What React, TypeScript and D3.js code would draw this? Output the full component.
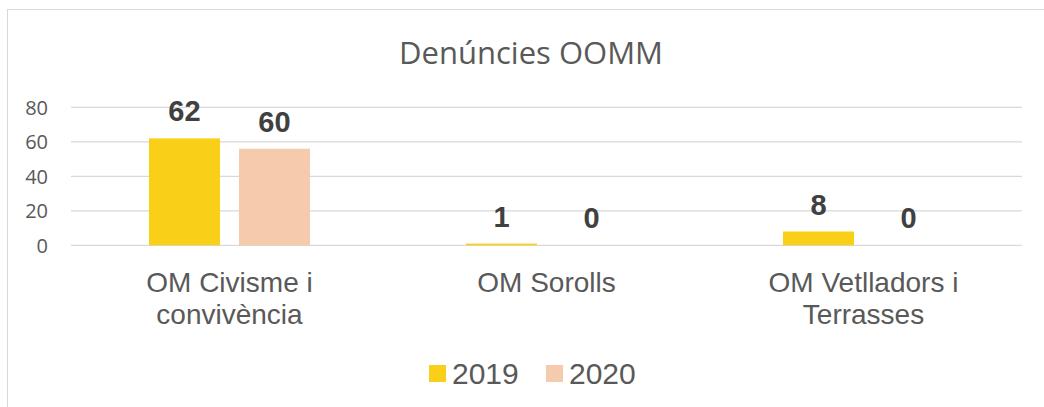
import React from "react";
import * as d3 from "d3";

const categories: string[][] = [
  ["OM Civisme i", "convivència"],
  ["OM Sorolls"],
  ["OM Vetlladors i", "Terrasses"],
];
const seriesNames = ["2019", "2020"];
const values2019 = [62, 1, 8];
const values2020 = [56, 0, 0];
const labels2019 = ["62", "1", "8"];
const labels2020 = ["60", "0", "0"];
const yTicks = [0, 20, 40, 60, 80];
const colors = ["#FACF17", "#F6CBAD"];
const title = "Denúncies OOMM";

export default function App() {
  const W = 1044;
  const H = 407;
  const x = d3.scaleBand<number>().domain([0, 1, 2]).range([71, 1022]).paddingInner(0).paddingOuter(0);
  const y = d3.scaleLinear().domain([0, 80]).range([245.3, 107.3]);
  const inner = d3
    .scaleBand<number>()
    .domain([0, 1])
    .range([78, x.bandwidth() - 78])
    .paddingInner(0.211);
  const series = [values2019, values2020];
  const labels = [labels2019, labels2020];
  const grid = "#D9D9D9";
  const textCol = "#595959";

  return (
    <svg
      width={W}
      height={H}
      style={{ position: "absolute", left: 0, top: 0, background: "#fff" }}
    >
      <rect x={7.5} y={9.5} width={1200} height={600} fill="#fff" stroke={grid} strokeWidth={1} />
      <text
        x={531}
        y={63.5}
        textAnchor="middle"
        fontFamily="'Open Sans', sans-serif"
        fontSize={31}
        fill={textCol}
      >
        {title}
      </text>
      {yTicks.map((t) => (
        <g key={t}>
          <line x1={71} x2={1022} y1={y(t)} y2={y(t)} stroke={grid} strokeWidth={1.3} />
          <text
            x={48}
            y={y(t)}
            dy="0.36em"
            textAnchor="end"
            fontFamily="'Open Sans', sans-serif"
            fontSize={20}
            fill={textCol}
          >
            {t}
          </text>
        </g>
      ))}
      {series.map((vals, si) =>
        vals.map((v, ci) => {
          const bx = (x(ci) as number) + (inner(si) as number);
          const bw = inner.bandwidth();
          return (
            <g key={`${si}-${ci}`}>
              <rect x={bx} y={y(v)} width={bw} height={y(0) - y(v)} fill={colors[si]} />
              <text
                x={bx + bw / 2}
                y={y(v) - 17}
                textAnchor="middle"
                fontFamily="'Liberation Sans', Arial, sans-serif"
                fontWeight="bold"
                fontSize={29}
                fill="#404040"
              >
                {labels[si][ci]}
              </text>
            </g>
          );
        })
      )}
      {categories.map((lines, ci) => (
        <text
          key={ci}
          textAnchor="middle"
          fontFamily="'Liberation Sans', Arial, sans-serif"
          fontSize={28}
          fill={textCol}
        >
          {lines.map((l, li) => (
            <tspan key={li} x={(x(ci) as number) + x.bandwidth() / 2} y={292 + li * 31.6}>
              {l}
            </tspan>
          ))}
        </text>
      ))}
      {seriesNames.map((s, si) => {
        const lx = [429, 546][si];
        return (
          <g key={s}>
            <rect x={lx} y={365} width={17} height={17} fill={colors[si]} />
            <text
              x={lx + 23}
              y={384}
              fontFamily="'Liberation Sans', Arial, sans-serif"
              fontSize={30}
              fill={textCol}
            >
              {s}
            </text>
          </g>
        );
      })}
    </svg>
  );
}
